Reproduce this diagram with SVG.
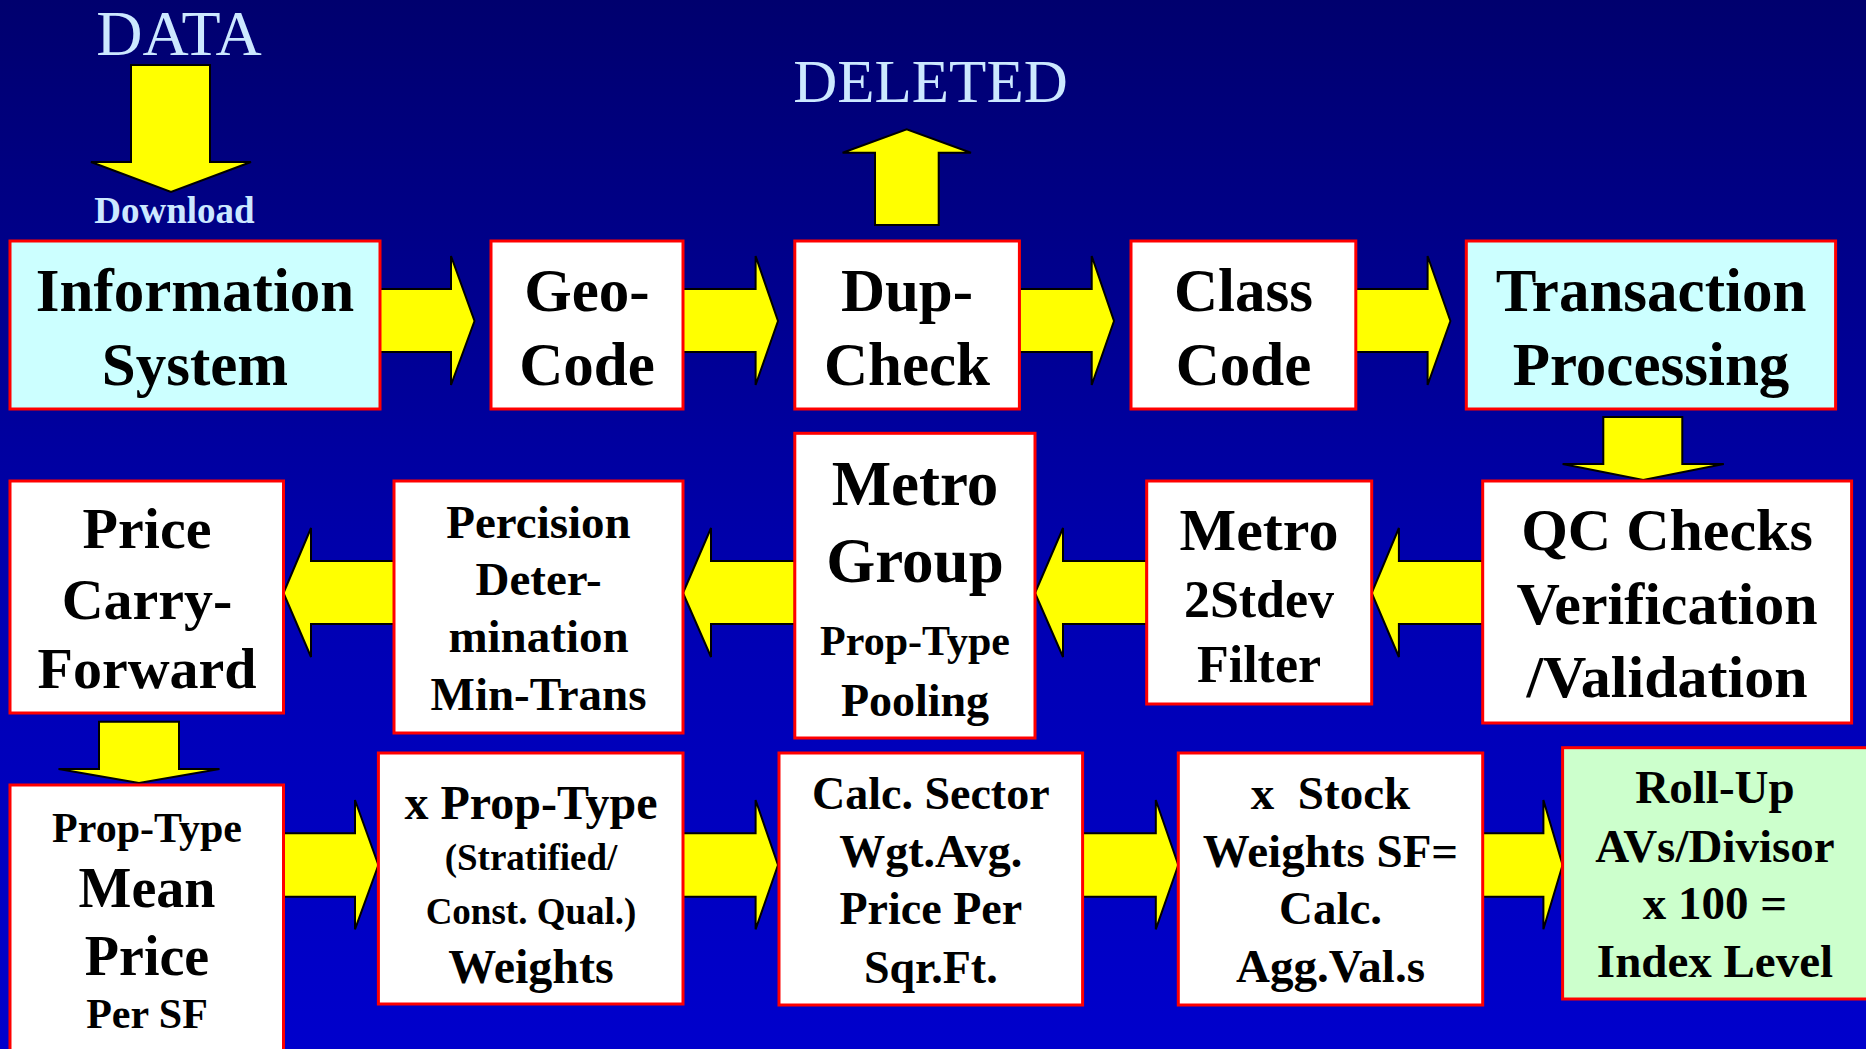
<svg xmlns="http://www.w3.org/2000/svg" width="1866" height="1049" viewBox="0 0 1866 1049">
<defs>
<linearGradient id="bg" x1="0" y1="0" x2="0" y2="1">
<stop offset="0" stop-color="#00006E"/>
<stop offset="0.6" stop-color="#0000B4"/>
<stop offset="1" stop-color="#0000CC"/>
</linearGradient>
<style>
.box{stroke:#FF0000;stroke-width:3}
.w{fill:#FFFFFF}
.c{fill:#CCFFFF}
.g{fill:#CCFFCC}
.arr{fill:#FFFF00;stroke:#000000;stroke-width:2;stroke-linejoin:miter}
text{font-family:"Liberation Serif","Times New Roman",serif;text-anchor:middle;fill:#000000;font-weight:bold}
.lbl{fill:#CCE8FF}
.reg{font-weight:normal}
</style>
</defs>
<rect x="0" y="0" width="1866" height="1049" fill="url(#bg)"/>

<g id="connectors">
<polygon class="arr" points="131,65 210,65 210,162 251,162 171,192 91,162 131,162"/>
<polygon class="arr" points="875,225 875,152.7 842.6,152.7 906.7,129.3 971,152.7 938.7,152.7 938.7,225"/>
<polygon class="arr" points="380,289 451,289 451,256 474.5,321 451,385 451,352 380,352"/>
<polygon class="arr" points="683,289 755.6,289 755.6,256 778,321 755.6,385 755.6,352 683,352"/>
<polygon class="arr" points="1019.4,289 1091.7,289 1091.7,256 1114,321 1091.7,385 1091.7,352 1019.4,352"/>
<polygon class="arr" points="1355.8,289 1427.6,289 1427.6,256 1450.4,321 1427.6,385 1427.6,352 1355.8,352"/>
<polygon class="arr" points="1603.3,417 1682.3,417 1682.3,464 1723.8,464 1643.2,480 1562.6,464 1603.3,464"/>
<polygon class="arr" points="1482.7,561 1398.9,561 1398.9,528 1371.7,593 1398.9,657 1398.9,624 1482.7,624"/>
<polygon class="arr" points="1146.7,561 1063,561 1063,528 1035,593 1063,657 1063,624 1146.7,624"/>
<polygon class="arr" points="794.8,561 711,561 711,528 683,593 711,657 711,624 794.8,624"/>
<polygon class="arr" points="394,561 311,561 311,528 283.5,593 311,657 311,624 394,624"/>
<polygon class="arr" points="99,721.7 179,721.7 179,769 219.5,769 139,783 58.5,769 99,769"/>
<polygon class="arr" points="283.5,833.3 355,833.3 355,800 378.4,865 355,929.3 355,896.7 283.5,896.7"/>
<polygon class="arr" points="683,833.3 755.6,833.3 755.6,800 778,865 755.6,929.3 755.6,896.7 683,896.7"/>
<polygon class="arr" points="1082.6,833.3 1155.8,833.3 1155.8,800 1178.3,865 1155.8,929.3 1155.8,896.7 1082.6,896.7"/>
<polygon class="arr" points="1482.7,833.3 1543.4,833.3 1543.4,800 1562.6,865 1543.4,929.3 1543.4,896.7 1482.7,896.7"/>
</g>

<g id="labels">
<text class="lbl reg" x="179" y="55" font-size="64">DATA</text>
<text class="lbl" x="174.5" y="223" font-size="37">Download</text>
<text class="lbl reg" x="930.5" y="101.7" font-size="61">DELETED</text>
</g>

<g id="info-system">
<rect class="box c" x="10" y="241" width="370" height="168"/>
<text x="195" y="311" font-size="61">Information</text>
<text x="195" y="385" font-size="61">System</text>
</g>
<g id="geo-code">
<rect class="box w" x="491" y="241" width="192" height="168"/>
<text x="587" y="311" font-size="61">Geo-</text>
<text x="587" y="385" font-size="61">Code</text>
</g>
<g id="dup-check">
<rect class="box w" x="794.8" y="241" width="224.6" height="168"/>
<text x="907" y="311" font-size="61">Dup-</text>
<text x="907" y="385" font-size="61">Check</text>
</g>
<g id="class-code">
<rect class="box w" x="1131" y="241" width="224.8" height="168"/>
<text x="1243.5" y="311" font-size="61">Class</text>
<text x="1243.5" y="385" font-size="61">Code</text>
</g>
<g id="transaction-processing">
<rect class="box c" x="1466.3" y="241" width="369.3" height="168"/>
<text x="1651" y="311" font-size="61">Transaction</text>
<text x="1651" y="385" font-size="61">Processing</text>
</g>

<g id="qc-checks">
<rect class="box w" x="1482.7" y="481" width="368.9" height="242"/>
<text x="1667" y="550" font-size="60">QC Checks</text>
<text x="1667" y="624" font-size="60">Verification</text>
<text x="1667" y="697" font-size="60">/Validation</text>
</g>
<g id="metro-2stdev">
<rect class="box w" x="1146.7" y="481" width="225" height="223"/>
<text x="1259" y="550" font-size="60">Metro</text>
<text x="1259" y="616.7" font-size="52">2Stdev</text>
<text x="1259" y="681.7" font-size="52">Filter</text>
</g>
<g id="metro-group">
<rect class="box w" x="794.8" y="433.3" width="240.2" height="304.7"/>
<text x="915" y="505" font-size="63">Metro</text>
<text x="915" y="581.7" font-size="63">Group</text>
<text x="915" y="655" font-size="42">Prop-Type</text>
<text x="915" y="716" font-size="46">Pooling</text>
</g>
<g id="percision">
<rect class="box w" x="394" y="481" width="289" height="252"/>
<text x="538.5" y="538" font-size="47">Percision</text>
<text x="538.5" y="595" font-size="47">Deter-</text>
<text x="538.5" y="652" font-size="47">mination</text>
<text x="538.5" y="710" font-size="47">Min-Trans</text>
</g>
<g id="price-carry-forward">
<rect class="box w" x="10" y="481" width="273.5" height="232"/>
<text x="147" y="548" font-size="58">Price</text>
<text x="147" y="619" font-size="58">Carry-</text>
<text x="147" y="688" font-size="58">Forward</text>
</g>

<g id="mean-price">
<rect class="box w" x="10" y="785" width="273.5" height="280"/>
<text x="147" y="841.7" font-size="42">Prop-Type</text>
<text x="147" y="907" font-size="56">Mean</text>
<text x="147" y="975" font-size="56">Price</text>
<text x="147" y="1028" font-size="42">Per SF</text>
</g>
<g id="prop-type-weights">
<rect class="box w" x="378.4" y="753" width="304.6" height="251"/>
<text x="531" y="819" font-size="48">x Prop-Type</text>
<text x="531" y="870" font-size="37">(Stratified/</text>
<text x="531" y="924" font-size="37">Const. Qual.)</text>
<text x="531" y="983" font-size="48">Weights</text>
</g>
<g id="calc-sector">
<rect class="box w" x="779" y="753" width="303.6" height="252"/>
<text x="930.8" y="809" font-size="46">Calc. Sector</text>
<text x="930.8" y="867" font-size="46">Wgt.Avg.</text>
<text x="930.8" y="924" font-size="46">Price Per</text>
<text x="930.8" y="983" font-size="46">Sqr.Ft.</text>
</g>
<g id="stock-weights">
<rect class="box w" x="1178.3" y="753" width="304.4" height="252"/>
<text x="1330.5" y="809" font-size="47" xml:space="preserve" style="white-space:pre">x  Stock</text>
<text x="1330.5" y="867" font-size="47">Weights SF=</text>
<text x="1330.5" y="924" font-size="47">Calc.</text>
<text x="1330.5" y="982" font-size="47">Agg.Val.s</text>
</g>
<g id="roll-up">
<rect class="box g" x="1562.6" y="747.7" width="320" height="251.3"/>
<text x="1715" y="803" font-size="47">Roll-Up</text>
<text x="1715" y="862" font-size="47">AVs/Divisor</text>
<text x="1715" y="919" font-size="47">x 100 =</text>
<text x="1715" y="977" font-size="47">Index Level</text>
</g>
</svg>
